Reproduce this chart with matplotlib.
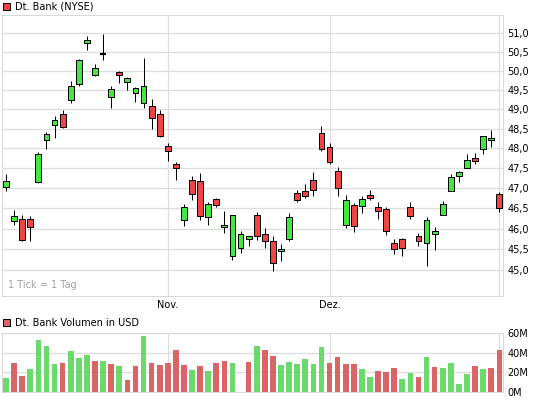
import matplotlib
matplotlib.use("Agg")
import matplotlib.pyplot as plt
from matplotlib.ticker import NullLocator, NullFormatter, FixedLocator, FixedFormatter
import numpy as np

# ---------------- data ----------------
opens = [47.02, 46.18, 46.23, 46.23, 47.14, 48.20, 48.58, 48.87, 49.24, 49.66,
         50.74, 49.89, 50.44, 49.32, 49.98, 49.71, 49.42, 49.16, 49.08, 48.87,
         48.06, 47.61, 46.20, 47.20, 47.18, 46.28, 46.73, 46.04, 45.33, 45.54,
         45.76, 46.33, 45.86, 45.69, 45.45, 45.75, 46.88, 46.93, 47.20, 48.38,
         48.03, 47.43, 46.08, 46.58, 46.55, 46.83, 46.53, 46.48, 45.64, 45.76,
         46.53, 45.83, 45.66, 45.86, 46.33, 46.93, 47.31, 47.50, 47.75, 47.98,
         48.21, 46.85]
highs = [47.36, 46.46, 46.33, 46.31, 47.90, 48.40, 48.81, 48.98, 49.74, 50.32,
         50.93, 50.18, 50.99, 49.61, 50.01, 49.85, 49.57, 50.33, 49.27, 48.98,
         48.13, 47.65, 46.61, 47.31, 47.38, 46.65, 46.76, 46.44, 46.33, 45.94,
         45.82, 46.41, 46.01, 45.82, 45.62, 46.38, 46.96, 47.11, 47.41, 48.56,
         48.13, 47.53, 46.83, 46.63, 46.79, 46.96, 46.65, 46.53, 45.76, 45.78,
         46.65, 45.90, 46.28, 46.03, 46.68, 47.35, 47.43, 47.86, 47.88, 48.30,
         48.46, 46.90]
lows = [46.92, 46.10, 45.71, 45.70, 47.12, 47.99, 48.27, 48.51, 49.15, 49.59,
        50.56, 49.86, 50.30, 49.04, 49.67, 49.51, 49.19, 49.04, 48.49, 48.29,
        47.67, 47.21, 46.07, 46.71, 46.21, 46.09, 46.53, 45.89, 45.25, 45.41,
        45.58, 45.73, 45.53, 44.98, 45.22, 45.70, 46.64, 46.74, 46.81, 47.92,
        47.59, 46.81, 46.02, 45.92, 46.37, 46.69, 46.24, 45.85, 45.39, 45.34,
        46.23, 45.58, 45.10, 45.49, 46.33, 46.93, 47.15, 47.50, 47.60, 47.85,
        48.03, 46.40]
closes = [47.18, 46.30, 45.72, 46.03, 47.85, 48.35, 48.71, 48.55, 49.59, 50.29,
          50.82, 50.08, 50.44, 49.53, 49.89, 49.82, 49.55, 49.61, 48.76, 48.32,
          47.92, 47.49, 46.53, 46.85, 46.30, 46.60, 46.58, 46.10, 46.33, 45.86,
          45.81, 45.83, 45.69, 45.18, 45.50, 46.28, 46.70, 46.80, 46.95, 47.98,
          47.65, 47.00, 46.70, 46.07, 46.73, 46.75, 46.43, 45.93, 45.50, 45.54,
          46.30, 45.69, 46.20, 45.95, 46.60, 47.28, 47.41, 47.70, 47.68, 48.30,
          48.25, 46.50]
volumes_m = [14, 29, 16, 23, 53, 47, 28, 30, 42, 35,
             38, 32, 32, 28, 26, 12, 26, 57, 29, 27,
             29, 43, 27, 22, 26, 21, 29, 32, 30, 0,
             31, 47, 43, 37, 27, 31, 28, 34, 28, 46,
             30, 36, 28, 28, 23, 15, 21, 20, 24, 13,
             19, 15, 36, 25, 24, 29, 8, 18, 26, 23,
             24, 43]
price_ticks = [45.0, 45.5, 46.0, 46.5, 47.0, 47.5, 48.0, 48.5, 49.0, 49.5, 50.0, 50.5, 51.0]
volume_ticks = [0, 20, 40, 60]
month_labels = ["Nov.", "Dez.", ""]
month_index = [20, 40, 61]

# ---------------- style ----------------
W, H = 545, 401
GREEN = "#40e840"
RED = "#f04444"
VGREEN = "#6cd96c"
VRED = "#d96666"
GRID = "#dddddd"
FS = 7
PX = 0.72  # 1 pixel in points at dpi 100

fig = plt.figure(figsize=(W / 100, H / 100), dpi=100)
fig.patch.set_facecolor("white")


def fx(x):
    return x / W


def fy(y):
    return 1 - y / H


ax = fig.add_axes([fx(2), fy(296), (503 - 2) / W, (296 - 15) / H])
axv = fig.add_axes([fx(2), fy(392), (503 - 2) / W, (392 - 333) / H])

n = len(opens)
x = np.arange(n)
o = np.array(opens)
h = np.array(highs)
l = np.array(lows)
c = np.array(closes)

# wicks
ax.vlines(x, l, h, color="black", lw=PX, zorder=3)
# bodies
bw = 0.72
for i in range(n):
    if c[i] > o[i]:
        ax.bar(x[i], c[i] - o[i], bottom=o[i], width=bw, color=GREEN,
               edgecolor="black", lw=PX, zorder=4)
    elif c[i] < o[i]:
        ax.bar(x[i], o[i] - c[i], bottom=c[i], width=bw, color=RED,
               edgecolor="black", lw=PX, zorder=4)
    else:
        ax.hlines(o[i], x[i] - bw / 2, x[i] + bw / 2, color="black", lw=1.6, zorder=4)

ax.set_yscale("log")
ax.set_ylim(44.39, 51.5)
ax.set_xlim(-0.5, 61.45)
ax.yaxis.tick_right()
ax.yaxis.set_major_locator(FixedLocator(price_ticks))
ax.yaxis.set_major_formatter(FixedFormatter([f"{v:.1f}".replace(".", ",") for v in price_ticks]))
ax.yaxis.set_minor_locator(NullLocator())
ax.yaxis.set_minor_formatter(NullFormatter())
ax.set_xticks(month_index)
ax.set_xticklabels(month_labels)
ax.tick_params(axis="both", length=0, labelsize=FS, colors="black")
ax.tick_params(axis="y", pad=3)
ax.tick_params(axis="x", pad=3)
ax.grid(True, color=GRID, lw=PX * 1.3, zorder=0)
ax.set_axisbelow(True)
for s in ax.spines.values():
    s.set_color("#d8d8d8")
    s.set_linewidth(PX)
ax.text(0.012, 0.022, "1 Tick = 1 Tag", transform=ax.transAxes, fontsize=FS,
        color="#a0a0a0", ha="left", va="bottom")

# volume
prev = np.concatenate([[c[0] - 1], c[:-1]])
vcols = [VGREEN if c[i] >= prev[i] else VRED for i in range(n)]
axv.bar(x, volumes_m, width=0.7, color=vcols, zorder=2)
axv.set_xlim(-0.5, 61.45)
axv.set_ylim(0, 60)
axv.yaxis.tick_right()
axv.set_yticks(volume_ticks)
axv.set_yticklabels([f"{v}M" for v in volume_ticks])
axv.set_xticks(month_index)
axv.set_xticklabels([])
axv.tick_params(axis="both", length=0, labelsize=FS, colors="black")
axv.tick_params(axis="y", pad=3)
axv.grid(True, color=GRID, lw=PX * 1.3, zorder=0)
axv.set_axisbelow(True)
for s in axv.spines.values():
    s.set_color("#d8d8d8")
    s.set_linewidth(PX)

# legends
fig.patches.append(plt.Rectangle((fx(3), fy(10)), 7 / W, 7 / H, transform=fig.transFigure,
                                 facecolor=RED, edgecolor="black", lw=PX))
fig.text(fx(15), fy(6.5), "Dt. Bank (NYSE)", fontsize=FS, ha="left", va="center")
fig.patches.append(plt.Rectangle((fx(3), fy(326)), 7 / W, 7 / H, transform=fig.transFigure,
                                 facecolor=VRED, edgecolor="black", lw=PX))
fig.text(fx(15), fy(322.5), "Dt. Bank Volumen in USD", fontsize=FS, ha="left", va="center")

fig.savefig("out.png", dpi=100)
